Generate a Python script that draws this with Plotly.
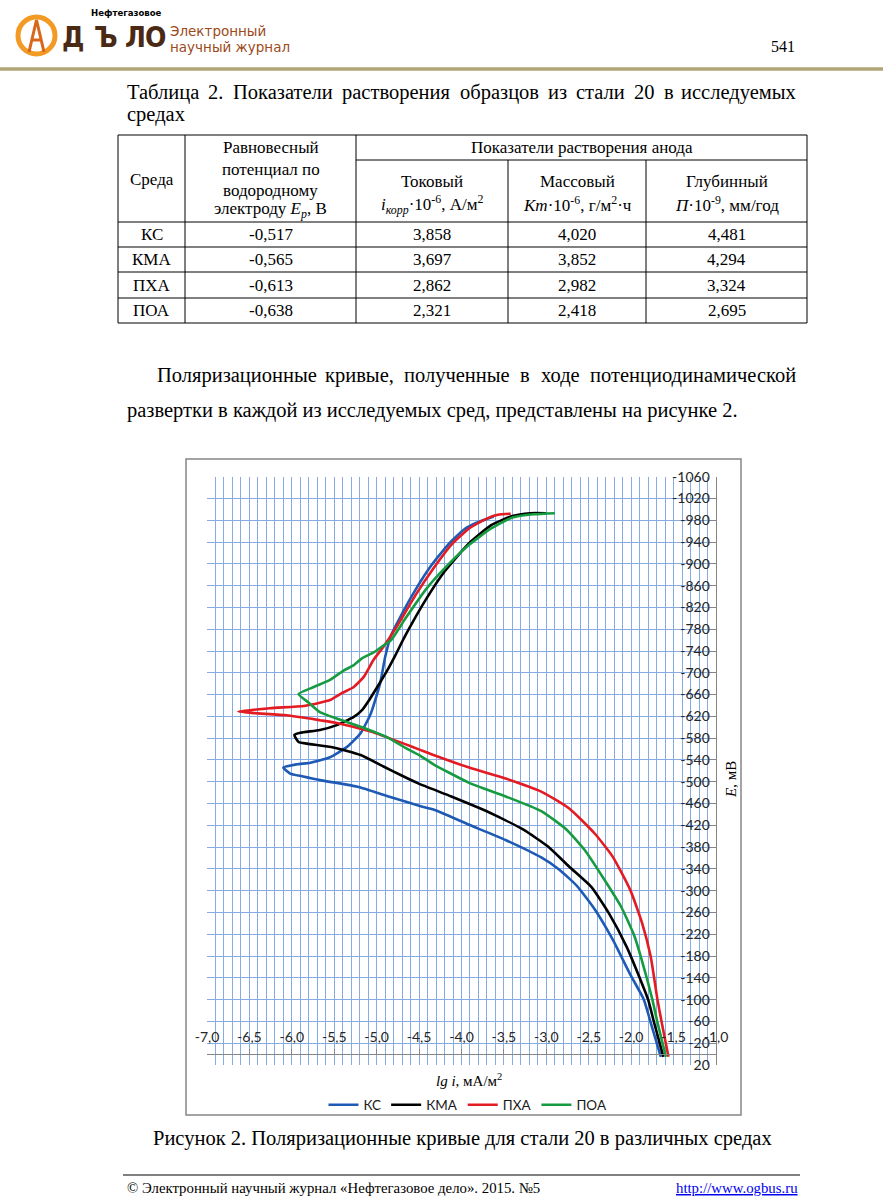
import plotly.graph_objects as go

# ---------------- data ----------------
series_names = ["КС", "КМА", "ПХА", "ПОА"]

ks_lgi = [-3.62, -3.83, -3.97, -4.16, -4.38, -4.60, -4.83, -4.90, -4.96, -5.07, -5.19, -5.35, -5.55, -5.78, -5.94, -6.10,
          -6.02, -5.88, -5.67, -5.40, -5.20, -4.88, -4.48, -4.33, -3.91, -3.48, -3.06, -2.85, -2.64, -2.43, -2.22, -2.01,
          -1.85, -1.77, -1.65]
ks_e = [-987, -975, -963, -935, -892, -837, -769, -729, -680, -625, -589, -564, -545, -535, -532, -526,
        -515, -510, -503, -496, -490, -474, -455, -449, -421, -393, -361, -339, -309, -266, -211, -146,
        -100, -58, 5]

kma_lgi = [-3.00, -3.19, -3.40, -3.65, -3.91, -4.20, -4.41, -4.66, -4.78, -4.88, -5.00, -5.08, -5.17, -5.27, -5.47, -5.67,
           -5.90, -5.97, -5.92, -5.82, -5.51, -5.19, -4.92, -4.70, -4.51, -4.12, -3.69, -3.27, -2.98, -2.73, -2.47, -2.26,
           -2.05, -1.90, -1.80, -1.73, -1.62]
kma_e = [-993, -993, -988, -971, -938, -886, -837, -769, -732, -703, -672, -652, -632, -619, -604, -595,
         -590, -586, -573, -570, -563, -549, -528, -511, -497, -473, -445, -412, -381, -344, -307, -258,
         -196, -140, -100, -58, 5]

pha_lgi = [-3.42, -3.57, -3.69, -3.91, -4.12, -4.33, -4.54, -4.75, -4.92, -5.04, -5.15, -5.27, -5.43, -5.55, -5.67, -5.86,
           -6.26, -6.63, -6.45, -6.06, -5.67, -5.47, -5.07, -4.68, -4.48, -4.33, -3.91, -3.48, -3.06, -2.73, -2.43, -2.22,
           -2.01, -1.87, -1.77, -1.69, -1.64, -1.56]
pha_e = [-992, -990, -984, -965, -935, -892, -843, -788, -748, -723, -693, -674, -661, -650, -645, -639,
         -635, -629, -626, -622, -613, -608, -592, -570, -558, -549, -526, -506, -482, -451, -405, -363,
         -301, -240, -179, -100, -58, 5]

poa_lgi = [-2.90, -3.15, -3.40, -3.65, -3.91, -4.16, -4.41, -4.66, -4.83, -4.92, -5.04, -5.17, -5.27, -5.39, -5.55, -5.74,
           -5.92, -5.80, -5.67, -5.47, -5.19, -4.88, -4.66, -4.48, -4.33, -3.91, -3.48, -3.06, -2.76, -2.55, -2.34, -2.12,
           -1.96, -1.82, -1.75, -1.69, -1.59]
poa_e = [-993, -991, -985, -965, -935, -898, -855, -800, -760, -750, -737, -727, -714, -704, -687, -674,
         -661, -645, -628, -616, -601, -582, -562, -547, -532, -498, -473, -446, -412, -375, -326, -271,
         -216, -142, -100, -58, 5]

x_tick_vals = [-7.0, -6.5, -6.0, -5.5, -5.0, -4.5, -4.0, -3.5, -3.0, -2.5, -2.0, -1.5, -1.0]
x_tick_text = ["-7,0", "-6,5", "-6,0", "-5,5", "-5,0", "-4,5", "-4,0", "-3,5", "-3,0", "-2,5", "-2,0", "-1,5", "-1,0"]
y_tick_vals = [-1060, -1020, -980, -940, -900, -860, -820, -780, -740, -700, -660, -620, -580, -540,
               -500, -460, -420, -380, -340, -300, -260, -220, -180, -140, -100, -60, -20, 20]
y_tick_text = ["-1060", "-1020", "-980", "-940", "-900", "-860", "-820", "-780", "-740", "-700", "-660", "-620",
               "-580", "-540", "-500", "-460", "-420", "-380", "-340", "-300", "-260", "-220", "-180", "-140",
               "-100", "-60", "-20", "20"]

table_media = ["КС", "КМА", "ПХА", "ПОА"]
table_ep = ["-0,517", "-0,565", "-0,613", "-0,638"]
table_tok = ["3,858", "3,697", "2,862", "2,321"]
table_mass = ["4,020", "3,852", "2,982", "2,418"]
table_depth = ["4,481", "4,294", "3,324", "2,695"]

# ---------------- styling ----------------
W, H = 883, 1200
SERIF = "Liberation Serif, Times New Roman, serif"
SANS = "Lato, Carlito, Calibri, sans-serif"
GRID = "#86ABDE"
AXIS = "#868686"
colors = ["#1E5AB4", "#000000", "#E31B23", "#169B40"]

# approximate Times New Roman advance widths (em/1000) used to space justified lines
TNR = {"а": 444, "б": 509, "в": 472, "г": 410, "д": 509, "е": 444, "ж": 691, "з": 395, "и": 535, "й": 535,
       "к": 486, "л": 499, "м": 633, "н": 535, "о": 500, "п": 535, "р": 500, "с": 444, "т": 437, "у": 500,
       "ф": 648, "х": 500, "ц": 535, "ч": 503, "ш": 770, "щ": 770, "ъ": 517, "ы": 672, "ь": 456, "э": 429,
       "ю": 747, "я": 460, "Т": 611, "П": 722, "Р": 556, ".": 250, ",": 250}


def px(x):
    return x / W


def py(y):
    return 1 - y / H


fig = go.Figure()
for name, xs, ys, c in zip(series_names, [ks_lgi, kma_lgi, pha_lgi, poa_lgi],
                           [ks_e, kma_e, pha_e, poa_e], colors):
    fig.add_trace(go.Scatter(x=xs, y=ys, mode="lines", name=name,
                             line=dict(color=c, width=2.6, shape="spline", smoothing=0.5), hoverinfo="skip"))

# plot area geometry (pixels)
PL, PR, PT, PB = 207, 716, 476.7, 1065
ydom = [py(PB), py(PT)]
yr = [20, -1060]
xaxis_pos = ydom[0] + (0 - yr[0]) / (yr[1] - yr[0]) * (ydom[1] - ydom[0])

annotations = []
shapes = []


def ann(x, y, text, size, xanchor="left", family=SERIF, color="black", **kw):
    annotations.append(dict(x=px(x), y=py(y), xref="paper", yref="paper", text=text, showarrow=False,
                            xanchor=xanchor, yanchor="middle", font=dict(family=family, size=size, color=color), **kw))


def hline(x0, x1, y, color="black", width=1):
    shapes.append(dict(type="line", xref="paper", yref="paper", x0=px(x0), x1=px(x1), y0=py(y), y1=py(y),
                       line=dict(color=color, width=width)))


def vline(x, y0, y1, color="black", width=1):
    shapes.append(dict(type="line", xref="paper", yref="paper", x0=px(x), x1=px(x), y0=py(y0), y1=py(y1),
                       line=dict(color=color, width=width)))


def wlen(word, size):
    return sum(TNR.get(ch, 500) for ch in word) / 1000 * size


def justify(text, x0, x1, y, size):
    words = text.split()
    widths = [wlen(w, size) for w in words]
    g = (x1 - x0 - sum(widths)) / (len(words) - 1)
    pos = x0
    for i, w in enumerate(words):
        if i == 0:
            ann(x0, y, w, size, xanchor="left")
        elif i == len(words) - 1:
            ann(x1, y, w, size, xanchor="right")
        else:
            ann(pos + widths[i] / 2, y, w, size, xanchor="center")
        pos += widths[i] + g


BODY = 20.5

# ---------------- header ----------------
shapes.append(dict(type="circle", xref="paper", yref="paper", x0=px(18), x1=px(55), y0=py(54), y1=py(17),
                   line=dict(color="#F39A25", width=5)))
shapes.append(dict(type="path", xref="paper", yref="paper",
                   path=f"M {px(29)} {py(52)} L {px(36.5)} {py(20)} L {px(44)} {py(52)} M {px(31)} {py(40)} L {px(42)} {py(40)}",
                   line=dict(color="#D9661A", width=3)))
ann(89, 12, "<b>Нефтегазовое</b>", 9.5, family="Liberation Sans Narrow, DejaVu Sans Condensed, Liberation Sans")
for ch, cx in zip(["Д", "Ъ", "Л", "О"], [73, 106, 135, 155]):
    ann(cx, 37, f"<b>{ch}</b>", 28, xanchor="center",
        family="Liberation Sans Narrow, DejaVu Sans Condensed, Liberation Sans", color="#4A2A14")
ann(168, 31, "Электронный", 13.5, family="DejaVu Sans", color="#9C4A1A")
ann(168, 47, "научный журнал", 13.5, family="DejaVu Sans", color="#9C4A1A")
ann(797, 46, "541", 16, xanchor="right")
hline(0, W, 69, color="#B0A677", width=3.5)

# ---------------- table caption ----------------
justify("Таблица 2. Показатели растворения образцов из стали 20 в исследуемых", 125, 798, 92, BODY)
ann(125, 115, "средах", BODY)

# ---------------- table ----------------
TL, TR = 118, 807
hline(TL, TR, 135)
hline(356, TR, 160)
for yy in [222, 247, 272, 298, 323]:
    hline(TL, TR, yy)
for xx in [118, 185, 356, 807]:
    vline(xx, 135, 323)
for xx in [508, 646]:
    vline(xx, 160, 323)

TS = 17
ann(151.5, 179, "Среда", TS, xanchor="center")
for t, yy in zip(["Равновесный", "потенциал по", "водородному", "электроду <i>E</i><sub><i>p</i></sub>, В"],
                 [148, 169, 190, 210]):
    ann(270.5, yy, t, TS, xanchor="center")
ann(581.5, 148, "Показатели растворения анода", TS, xanchor="center")
ann(432, 182, "Токовый", TS, xanchor="center")
ann(432, 204, "<i>i</i><sub><i>корр</i></sub>·10<sup>-6</sup>, А/м<sup>2</sup>", TS, xanchor="center")
ann(577, 182, "Массовый", TS, xanchor="center")
ann(577, 204, "<i>Km</i>·10<sup>-6</sup>, г/м<sup>2</sup>·ч", TS, xanchor="center")
ann(726.5, 182, "Глубинный", TS, xanchor="center")
ann(726.5, 204, "<i>П</i>·10<sup>-9</sup>, мм/год", TS, xanchor="center")
row_y = [234.5, 259.5, 285, 310.5]
for i, yy in enumerate(row_y):
    for colc, vals in zip([151.5, 270.5, 432, 577, 726.5],
                          [table_media, table_ep, table_tok, table_mass, table_depth]):
        ann(colc, yy, vals[i], TS, xanchor="center")

# ---------------- paragraph ----------------
justify("Поляризационные кривые, полученные в ходе потенциодинамической", 155, 798, 375, BODY)
ann(125, 410, "развертки в каждой из исследуемых сред, представлены на рисунке 2.", BODY)

# ---------------- chart frame & axis titles ----------------
shapes.append(dict(type="rect", xref="paper", yref="paper", x0=px(186), x1=px(741), y0=py(1115), y1=py(459),
                   line=dict(color="#858585", width=1.5), layer="below"))
ann(731, 780, "<i>E</i>, мВ", 15, xanchor="center", textangle=-90)
ann(469, 1080, "<i>lg i</i>, мА/м<sup>2</sup>", 15, xanchor="center")

# ---------------- figure caption & footer ----------------
ann(462, 1138, "Рисунок 2. Поляризационные кривые для стали 20 в различных средах", BODY, xanchor="center")
hline(123, 800, 1175, width=1)
ann(125, 1188, "© Электронный научный журнал «Нефтегазовое дело». 2015. №5", 14.8)
ann(800, 1188, "<u>http://www.ogbus.ru</u>", 14.8, xanchor="right", color="#0000EE")

fig.update_layout(
    width=W, height=H,
    margin=dict(l=0, r=0, t=0, b=0, pad=0, autoexpand=False),
    paper_bgcolor="white", plot_bgcolor="white",
    showlegend=True,
    legend=dict(orientation="h", x=px(468), y=py(1105), xanchor="center", yanchor="middle",
                font=dict(family=SANS, size=13.5, color="#1a1a1a"), itemwidth=30, bgcolor="rgba(0,0,0,0)",
                tracegroupgap=0),
    xaxis=dict(domain=[px(PL), px(PR)], range=[-7, -1], tickmode="array", tickvals=x_tick_vals,
               ticktext=x_tick_text, showgrid=True, gridcolor=GRID, gridwidth=1,
               minor=dict(tick0=-7, dtick=0.1, showgrid=True, gridcolor=GRID, gridwidth=1),
               anchor="free", position=xaxis_pos, showline=True, linecolor=AXIS, linewidth=1,
               ticks="inside", ticklen=5, tickcolor=AXIS, ticklabelposition="inside",
               ticklabeloverflow="allow", ticklabelstandoff=4,
               tickfont=dict(family=SANS, size=14, color="#262626"), zeroline=False),
    yaxis=dict(domain=ydom, range=yr, tickmode="array", tickvals=y_tick_vals, ticktext=y_tick_text,
               side="right", anchor="x", showline=True, linecolor=AXIS, linewidth=1,
               ticks="inside", ticklen=6, tickcolor=AXIS, ticklabelposition="inside",
               ticklabeloverflow="allow", showgrid=True, gridcolor=GRID, gridwidth=1,
               tickfont=dict(family=SANS, size=14, color="#262626"), zeroline=False),
    annotations=annotations,
    shapes=shapes,
)

fig.write_html("out.html", config={"displayModeBar": False},
               post_script="document.body.style.margin='0px';document.body.style.overflow='hidden';")
